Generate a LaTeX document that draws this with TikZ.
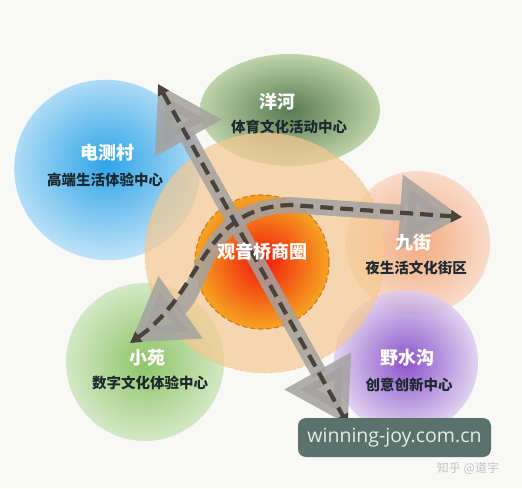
\documentclass[tikz,border=0pt]{standalone}
\usepackage{fontspec}
\newfontfamily\cjk{Noto Sans CJK SC}
\newfontfamily\webfont{Open Sans}
\usetikzlibrary{arrows.meta}

\definecolor{bgcol}{HTML}{F8F8F6}
\definecolor{subcol}{HTML}{1E2A30}
\definecolor{bandcol}{HTML}{A4A2A0}
\definecolor{dashcol}{HTML}{4A433C}
\definecolor{wmcol}{HTML}{5B726C}
\definecolor{wmtext}{HTML}{E2ECE8}
\definecolor{dcblue}{HTML}{1A9CE8}
\definecolor{yhgreen}{HTML}{3E6536}
\definecolor{yhedge}{HTML}{B4CE9C}
\definecolor{jjorange}{HTML}{F29E6C}
\definecolor{ysgpurple}{HTML}{7A38C4}
\definecolor{xygreen}{HTML}{7CBC50}
\definecolor{ringcol}{HTML}{F6C890}
\definecolor{ringedge}{HTML}{E8B07A}
\definecolor{corered}{HTML}{F0180C}
\definecolor{coreorange}{HTML}{F6A420}
\definecolor{coreedge}{HTML}{D07A2C}
\definecolor{zhgray}{HTML}{C4C4C4}

\begin{document}
\begin{tikzpicture}[x=1pt,y=-1pt,
    title/.style={text=white,font=\cjk\bfseries\fontsize{18}{20}\selectfont},
    sub/.style={text=subcol,font=\cjk\bfseries\fontsize{14.5}{16}\selectfont},
    band/.style={draw=bandcol,opacity=0.85,line width=16pt,
      {Triangle[length=62pt,width=72pt]}-{Triangle[length=62pt,width=72pt]}},
    dashline/.style={draw=dashcol,line width=4.2pt,dash pattern=on 13pt off 7pt,
      {Triangle[length=11pt,width=12pt]}-{Triangle[length=11pt,width=12pt]}}]

  \useasboundingbox[fill=bgcol] (0,0) rectangle (522,488);

  % areas round the centre
  \shade[inner color=dcblue,outer color=dcblue!32!white,opacity=0.9,rotate around={-15:(107,170)}]
    (107,170) ellipse [x radius=93pt,y radius=90pt];
  \shade[inner color=yhgreen,outer color=yhedge,opacity=0.85]
    (290,110) ellipse [x radius=90pt,y radius=56pt];
  \shade[inner color=jjorange,outer color=jjorange!42!white,opacity=0.85]
    (418,243) circle (72pt);
  \shade[inner color=ysgpurple,outer color=ysgpurple!25!white,opacity=0.85]
    (406,362) circle (72pt);
  \shade[inner color=xygreen,outer color=xygreen!38!white,opacity=0.85]
    (145,362) circle (79pt);

  % centre
  \fill[ringcol,opacity=0.7] (265,253) circle (120pt);
  \draw[ringedge,opacity=0.6,dashed] (265,253) circle (120pt);
  \shade[inner color=corered,outer color=coreorange] (262,262) circle (67pt);
  \draw[coreedge,line width=1.2pt,dash pattern=on 5pt off 3pt] (262,262) circle (67pt);

  % axes
  \coordinate (n) at (158,84);
  \coordinate (s) at (348,425);
  \coordinate (w) at (130,343);
  \coordinate (e) at (462,217);

  \draw[band] (n) -- (s);
  \draw[band] (w) .. controls (205,290) and (200,208) .. (290,205) -- (e);
  \draw[dashline] (n) -- (s);
  \draw[dashline] (w) .. controls (205,290) and (200,208) .. (290,205) -- (e);

  % labels
  \node[title] (dc) at (107,153) {电测村};
  \node[sub] (dcsub) at (105,180) {高端生活体验中心};
  \node[title] (yh) at (277,102) {洋河};
  \node[sub] (yhsub) at (289,127) {体育文化活动中心};
  \node[title] (gyq) at (262,252) {观音桥商圈};
  \node[title] (jj) at (413,243) {九街};
  \node[sub] (jjsub) at (416,268) {夜生活文化街区};
  \node[title] (ysg) at (407,358) {野水沟};
  \node[sub] (ysgsub) at (409,385) {创意创新中心};
  \node[title] (xy) at (147,358) {小苑};
  \node[sub] (xysub) at (150,383) {数字文化体验中心};

  % mark
  \node[fill=wmcol,rounded corners=8pt,minimum width=193pt,minimum height=39pt,
    text=wmtext,font=\webfont\fontsize{19.5}{22}\selectfont] (web) at (394.5,437.5) {winning-joy.com.cn};
  \node[text=zhgray,font=\cjk\fontsize{12}{14}\selectfont] (zh) at (468,468) {知乎 @道宇};

\end{tikzpicture}
\end{document}
